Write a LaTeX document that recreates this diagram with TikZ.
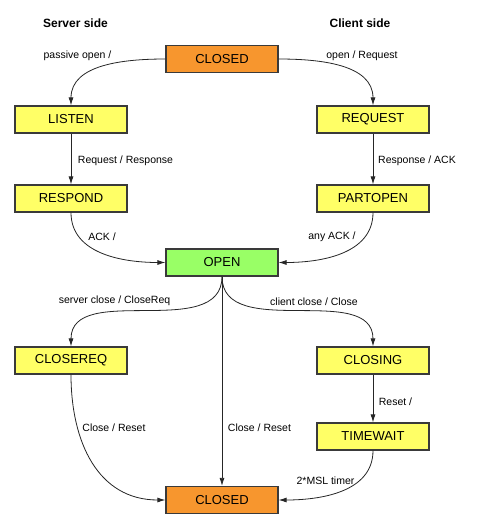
\documentclass[tikz,border=0pt]{standalone}
\usepackage{fontspec}
\setmainfont{Liberation Sans}
\usetikzlibrary{arrows.meta}
\definecolor{stateorange}{HTML}{F7962E}
\definecolor{stateyellow}{HTML}{FFFF66}
\definecolor{stategreen}{HTML}{99FF66}
\definecolor{edgegray}{HTML}{3A3A3A}
\begin{document}
\begin{tikzpicture}[x=1pt,y=-1pt,
  statebox/.style={draw=edgegray,line width=1.2pt,minimum width=112pt,minimum height=27pt,
    inner sep=0pt,font=\fontsize{13}{15}\selectfont},
  endstate/.style={statebox,fill=stateorange},
  midstate/.style={statebox,fill=stateyellow},
  openstate/.style={statebox,fill=stategreen},
  trans/.style={draw=black!85,line width=0.8pt,-{Latex[length=8pt,width=5pt]}},
  lbl/.style={font=\fontsize{10.5}{12}\selectfont,inner sep=0pt},
  hdr/.style={font=\bfseries\fontsize{12}{14}\selectfont,inner sep=0pt}]
\useasboundingbox (0,0) rectangle (479,515);

% column headings
\node[hdr] (srv) at (75.5,23) {Server side};
\node[hdr] (cli) at (360,23) {Client side};

% states
\node[endstate]  (closedtop) at (222,59)  {CLOSED};
\node[midstate]  (listen)    at (71,119.5)  {LISTEN};
\node[midstate]  (request)   at (373,119.5) {REQUEST};
\node[midstate]  (respond)   at (71,198.5)  {RESPOND};
\node[midstate]  (partopen)  at (373,198.5) {PARTOPEN};
\node[openstate] (open)      at (222,262.5) {OPEN};
\node[midstate]  (closereq)  at (71,360.5)  {CLOSEREQ};
\node[midstate]  (closing)   at (373,360.5) {CLOSING};
\node[midstate]  (timewait)  at (373,436.5) {TIMEWAIT};
\node[endstate]  (closedbot) at (222,500)   {CLOSED};

% transitions
\draw[trans] (closedtop.west) to[out=180,in=90] (listen.north);
\draw[trans] (closedtop.east) to[out=0,in=90] (request.north);
\draw[trans] (listen.south) -- (respond.north);
\draw[trans] (request.south) -- (partopen.north);
\draw[trans] (respond.south) to[out=-90,in=180] (open.west);
\draw[trans] (partopen.south) to[out=-90,in=0] (open.east);
\draw[trans] (open.south) to[out=-90,in=90] (closereq.north);
\draw[trans] (open.south) to[out=-90,in=90] (closing.north);
\draw[trans] (open.south) -- (closedbot.north);
\draw[trans] (closereq.south) to[out=-90,in=180,looseness=1.1] (closedbot.west);
\draw[trans] (closing.south) -- (timewait.north);
\draw[trans] (timewait.south) to[out=-90,in=0] (closedbot.east);

% transition labels
\node[lbl] (l1)  at (77.5,56)  {passive open /};
\node[lbl] (l2)  at (362,56)   {open / Request};
\node[lbl] (l3)  at (125.5,161) {Request / Response};
\node[lbl] (l4)  at (417,161)  {Response / ACK};
\node[lbl] (l5)  at (102,237)  {ACK /};
\node[lbl] (l6)  at (332,237)  {any ACK /};
\node[lbl] (l7)  at (114.5,301) {server close / CloseReq};
\node[lbl] (l8)  at (314,302)  {client close / Close};
\node[lbl] (l9)  at (114,428)  {Close / Reset};
\node[lbl] (l10) at (259.5,428) {Close / Reset};
\node[lbl] (l11) at (395.5,402) {Reset /};
\node[lbl] (l12) at (325.5,481) {2*MSL timer};
\end{tikzpicture}
\end{document}
